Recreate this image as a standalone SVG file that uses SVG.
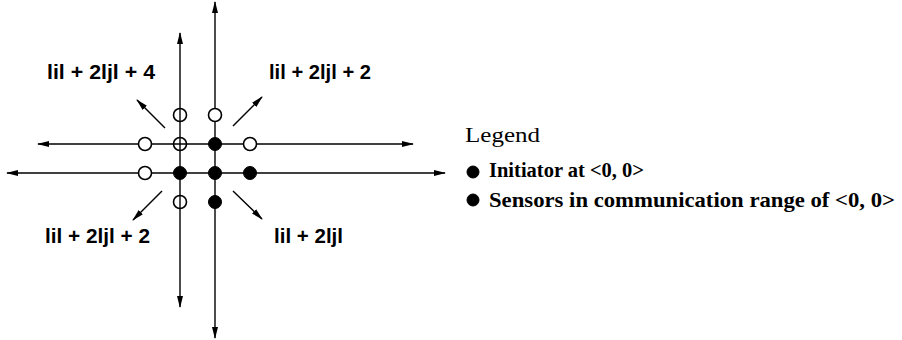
<svg xmlns="http://www.w3.org/2000/svg" width="902" height="340" viewBox="0 0 902 340">
<style>
.ln{stroke:#000;stroke-width:1.4;fill:none;marker-end:url(#ah)}
.open{fill:#fff;stroke:#000;stroke-width:1.6}
.thru{fill:none;stroke:#000;stroke-width:1.6}
.full{fill:#000;stroke:#000;stroke-width:1}
.lbl{font-family:"Liberation Sans",Arial,sans-serif;font-weight:bold;font-size:20px;fill:#000}
.leg{font-family:"Liberation Serif","Times New Roman",serif;font-size:22px;fill:#000}
.item{font-weight:bold;font-size:21px}
</style>
<defs>
<marker id="ah" viewBox="0 0 12 8" refX="11" refY="4" markerWidth="12" markerHeight="8" markerUnits="userSpaceOnUse" orient="auto">
<path d="M0,1 L12,4 L0,7 Z" fill="#000"/>
</marker>
</defs>
<rect width="902" height="340" fill="#fff"/>
<g id="connectors">
<line class="ln" x1="180" y1="144" x2="180" y2="33"/>
<line class="ln" x1="180" y1="144" x2="180" y2="307"/>
<line class="ln" x1="215" y1="144" x2="215" y2="2"/>
<line class="ln" x1="215" y1="144" x2="215" y2="338"/>
<line class="ln" x1="200" y1="144" x2="38" y2="144"/>
<line class="ln" x1="200" y1="144" x2="413" y2="144"/>
<line class="ln" x1="200" y1="173" x2="7" y2="173"/>
<line class="ln" x1="200" y1="173" x2="445" y2="173"/>
<line class="ln" x1="165" y1="128" x2="137" y2="100"/>
<line class="ln" x1="233" y1="126" x2="262" y2="97"/>
<line class="ln" x1="162" y1="191" x2="133" y2="220"/>
<line class="ln" x1="233" y1="191" x2="262" y2="219"/>
</g>
<g id="nodes">
<circle id="n-1-2" class="thru" cx="180" cy="115" r="6.5"/>
<circle id="n0-2" class="open" cx="215" cy="115" r="6.5"/>
<circle id="n-2-1" class="open" cx="145" cy="144" r="6.5"/>
<circle id="n-1-1" class="thru" cx="180" cy="144" r="6.5"/>
<circle id="n0-1" class="full" cx="215" cy="144" r="6.5"/>
<circle id="n1-1" class="open" cx="250" cy="144" r="6.5"/>
<circle id="n-2-0" class="open" cx="145" cy="173" r="6.5"/>
<circle id="n-1-0" class="full" cx="180" cy="173" r="6.5"/>
<circle id="n0-0" class="full" cx="215" cy="173" r="6.5"/>
<circle id="n1-0" class="full" cx="250" cy="173" r="6.5"/>
<circle id="n-1-m1" class="thru" cx="180" cy="202" r="6.5"/>
<circle id="n0-m1" class="full" cx="215" cy="202" r="6.5"/>
</g>
<g id="labels">
<text class="lbl" x="47" y="79" textLength="108" lengthAdjust="spacingAndGlyphs">lil + 2ljl + 4</text>
<text class="lbl" x="269" y="79" textLength="102" lengthAdjust="spacingAndGlyphs">lil + 2ljl + 2</text>
<text class="lbl" x="45" y="243" textLength="105" lengthAdjust="spacingAndGlyphs">lil + 2ljl + 2</text>
<text class="lbl" x="274" y="243" textLength="69" lengthAdjust="spacingAndGlyphs">lil + 2ljl</text>
</g>
<g id="legend">
<text class="leg" x="465" y="142" font-size="23" textLength="75" lengthAdjust="spacingAndGlyphs">Legend</text>
<circle class="full" cx="473" cy="172" r="6"/>
<text class="leg item" x="489" y="177" textLength="155" lengthAdjust="spacingAndGlyphs">Initiator at &lt;0, 0&gt;</text>
<circle class="full" cx="473" cy="200" r="6"/>
<text class="leg item" x="489" y="207" textLength="406" lengthAdjust="spacingAndGlyphs">Sensors in communication range of &lt;0, 0&gt;</text>
</g>
</svg>
